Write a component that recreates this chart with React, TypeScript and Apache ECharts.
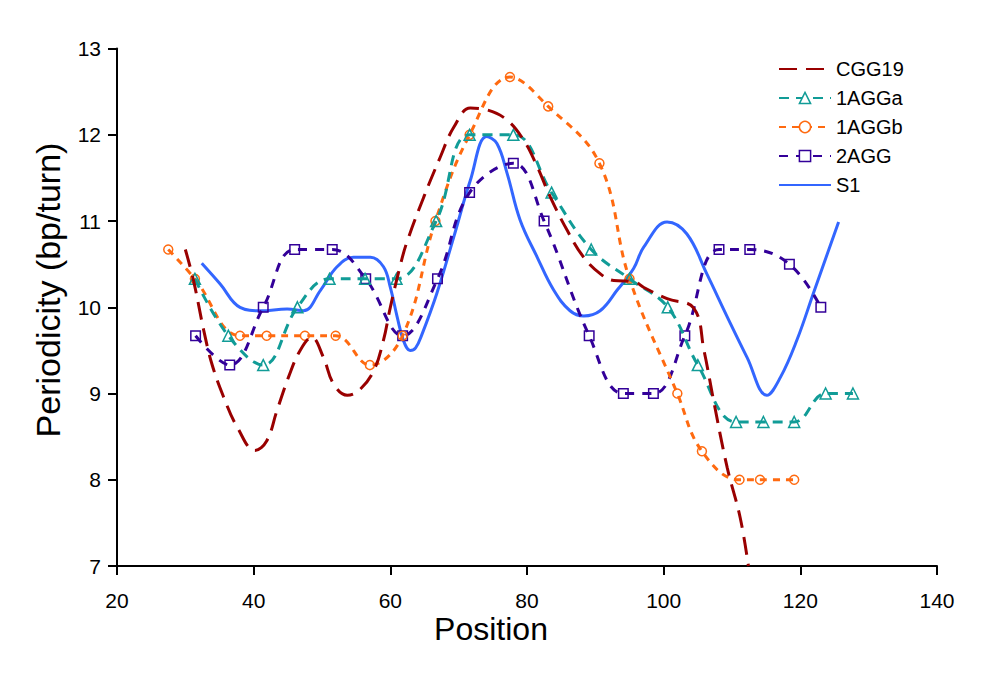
import React, { useEffect, useRef } from "react";
import * as echarts from "echarts";

// ---- data ----
const seriesNames = ["CGG19", "1AGGa", "1AGGb", "2AGG", "S1"];
const seriesColors = ["#990000", "#119c97", "#ff6a10", "#330099", "#3366ff"];

const xAxisRange = [20, 140];
const xStep = 20;
const yAxisRange = [7, 13];
const yStep = 1;

// CGG19 (no markers)
const cgg19: [number, number][] = [
  [30.0, 10.67], [31.2, 10.31], [32.7, 9.73], [33.9, 9.34], [35.6, 8.96], [37.6, 8.61],
  [40.2, 8.34], [41.9, 8.45], [43.4, 8.8], [45.1, 9.19], [46.8, 9.5], [48.5, 9.65],
  [50.2, 9.42], [51.7, 9.11], [53.7, 8.98], [55.6, 9.05], [57.6, 9.27], [59.0, 9.62],
  [60.0, 10.0], [61.5, 10.5], [62.4, 10.75], [64.9, 11.28], [67.3, 11.74], [69.3, 12.09],
  [71.7, 12.31], [74.1, 12.29], [77.1, 12.17], [79.5, 11.94], [81.5, 11.63], [83.4, 11.28],
  [85.9, 10.89], [88.3, 10.58], [90.7, 10.39], [92.7, 10.31], [95.6, 10.3], [97.1, 10.23],
  [100.5, 10.1], [104.4, 9.99], [105.9, 9.5], [107.3, 8.92], [109.3, 8.14], [111.2, 7.56],
  [112.4, 7.0],
];

// 1AGGa (triangles)
const agg1a: [number, number][] = [
  [31.4, 10.33], [36.3, 9.67], [41.4, 9.33], [46.4, 10.0], [51.1, 10.33], [56.3, 10.33],
  [60.9, 10.33], [66.7, 11.0], [71.6, 12.0], [78.0, 12.0], [83.6, 11.33], [89.4, 10.67],
  [95.0, 10.33], [100.6, 10.0], [105.0, 9.33], [110.6, 8.67], [114.6, 8.67], [119.1, 8.67],
  [123.7, 9.0], [127.7, 9.0],
];

// 1AGGb (circles)
const agg1b: [number, number][] = [
  [27.5, 10.67], [31.4, 10.33], [38.0, 9.67], [41.9, 9.67], [47.5, 9.67], [52.0, 9.67],
  [57.0, 9.33], [61.8, 9.67], [66.6, 11.0], [71.6, 12.0], [77.5, 12.67], [83.1, 12.33],
  [90.6, 11.67], [95.0, 10.33], [102.0, 9.0], [105.6, 8.33], [111.1, 8.0], [114.1, 8.0],
  [119.1, 8.0],
];

// 2AGG (squares)
const agg2: [number, number][] = [
  [31.5, 9.67], [36.5, 9.33], [41.4, 10.0], [46.0, 10.67], [51.5, 10.67], [56.4, 10.33],
  [61.8, 9.67], [66.9, 10.33], [71.6, 11.33], [78.0, 11.67], [82.5, 11.0], [89.1, 9.67],
  [94.1, 9.0], [98.5, 9.0], [103.1, 9.67], [108.1, 10.67], [112.6, 10.67], [118.4, 10.5],
  [123.0, 10.0],
];

// S1 (solid, no markers)
const s1: [number, number][] = [
  [32.4, 10.51], [35.1, 10.27], [38.0, 10.0], [41.0, 9.96], [44.9, 9.98], [47.3, 9.96],
  [49.8, 10.2], [52.2, 10.47], [54.6, 10.58], [57.1, 10.58], [59.0, 10.47], [60.0, 10.23],
  [61.0, 9.89], [61.9, 9.62], [62.9, 9.5], [63.7, 9.53], [64.6, 9.68], [66.8, 10.16], [69.3, 10.82],
  [71.7, 11.47], [74.1, 11.98], [75.6, 11.9], [77.1, 11.55], [79.0, 11.01], [81.5, 10.58],
  [83.9, 10.2], [86.3, 9.96], [88.3, 9.9], [90.7, 9.96], [93.2, 10.2], [95.6, 10.45],
  [97.1, 10.7], [100.5, 10.99], [103.4, 10.85], [106.3, 10.39], [109.3, 9.89], [112.2, 9.42],
  [115.1, 8.98], [117.1, 9.19], [119.5, 9.62], [121.9, 10.16], [125.6, 10.99],
];

const seriesData = [cgg19, agg1a, agg1b, agg2, s1];
const seriesDash: (number[] | "solid")[] = [[18, 9], [10, 7], [7, 6], [9, 8], "solid"];
const seriesSymbols = ["none", "triangle", "circle", "rect", "none"];
const seriesSymbolSizes = [0, 11, 9, 9.5, 0];

const FONT = "'Liberation Sans', Arial, Helvetica, sans-serif";

export default function App() {
  const ref = useRef<HTMLDivElement>(null);

  useEffect(() => {
    if (!ref.current) return;
    const chart = echarts.init(ref.current, null, { renderer: "svg" });

    const series = seriesNames.map((name, i) => ({
      name,
      type: "line",
      data: seriesData[i],
      smooth: 0.4,
      symbol: seriesSymbols[i],
      symbolSize: seriesSymbolSizes[i],
      showSymbol: seriesSymbols[i] !== "none",
      lineStyle: {
        color: seriesColors[i],
        width: 3,
        type: seriesDash[i],
      },
      itemStyle: {
        color: "rgba(255,255,255,0)",
        borderColor: seriesColors[i],
        borderWidth: 1.5,
      },
      emphasis: { disabled: true },
      z: 2 + (seriesNames.length - i),
    }));

    chart.setOption({
      animation: false,
      backgroundColor: "#ffffff",
      grid: { left: 117, right: 44, top: 48.6, bottom: 110, containLabel: false },
      legend: {
        orient: "vertical",
        left: 778,
        top: 59,
        padding: 0,
        itemWidth: 52,
        itemHeight: 14,
        itemGap: 9,
        textStyle: { fontFamily: FONT, fontSize: 20, color: "#000", lineHeight: 20 },
        data: seriesNames.map((n, i) => ({
          name: n,
          itemStyle:
            seriesSymbols[i] === "none"
              ? { opacity: 0, borderWidth: 0 }
              : {
                  color: "#ffffff",
                  borderColor: seriesColors[i],
                  borderWidth: 1.5,
                },
        })),
      },
      xAxis: {
        type: "value",
        min: xAxisRange[0],
        max: xAxisRange[1],
        interval: xStep,
        splitLine: { show: false },
        axisLine: { onZero: false, lineStyle: { color: "#000", width: 2 } },
        axisTick: { inside: false, length: 9, lineStyle: { color: "#000", width: 2 } },
        axisLabel: { fontFamily: FONT, fontSize: 21, color: "#000", margin: 24 },
      },
      yAxis: {
        type: "value",
        min: yAxisRange[0],
        max: yAxisRange[1],
        interval: yStep,
        splitLine: { show: false },
        axisLine: { show: true, onZero: false, lineStyle: { color: "#000", width: 2 } },
        axisTick: { show: true, inside: false, length: 9, lineStyle: { color: "#000", width: 2 } },
        axisLabel: { fontFamily: FONT, fontSize: 21, color: "#000", margin: 16 },
      },
      graphic: [
        {
          type: "text",
          x: 491,
          y: 629,
          style: {
            text: "Position",
            fontFamily: FONT,
            fontSize: 32,
            fill: "#000",
            textAlign: "center",
            textVerticalAlign: "middle",
          },
        },
        {
          type: "text",
          x: 48,
          y: 290,
          rotation: Math.PI / 2,
          style: {
            text: "Periodicity (bp/turn)",
            fontFamily: FONT,
            fontSize: 34,
            fill: "#000",
            textAlign: "center",
            textVerticalAlign: "middle",
          },
        },
      ],
      series,
    });

    return () => chart.dispose();
  }, []);

  return (
    <div
      ref={ref}
      style={{ position: "fixed", left: 0, top: 0, width: 981, height: 676, background: "#fff" }}
    />
  );
}
